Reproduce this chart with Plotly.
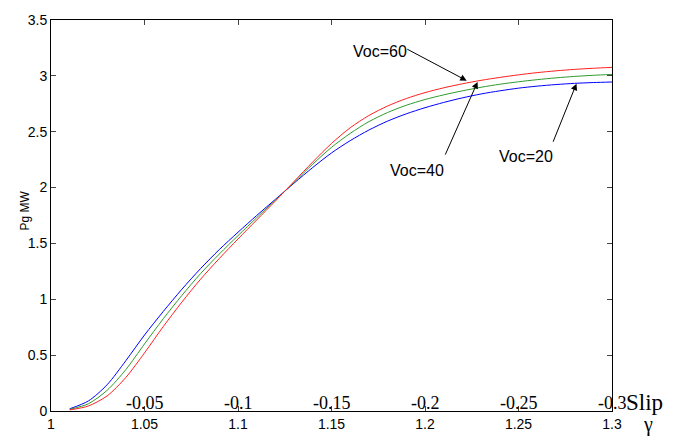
import plotly.graph_objects as go

# gamma (x) grid
gamma = [1.01, 1.02, 1.03, 1.04, 1.05, 1.06, 1.07, 1.08, 1.09, 1.10,
         1.11, 1.12, 1.13, 1.14, 1.15, 1.16, 1.17, 1.18, 1.19, 1.20,
         1.21, 1.22, 1.23, 1.24, 1.25, 1.26, 1.27, 1.28, 1.29, 1.30]
pg_voc20 = [0.02, 0.09, 0.235, 0.45, 0.68, 0.89, 1.09, 1.275, 1.445, 1.60,
            1.75, 1.895, 2.04, 2.18, 2.31, 2.42, 2.515, 2.595, 2.66, 2.715,
            2.762, 2.803, 2.838, 2.866, 2.89, 2.908, 2.922, 2.933, 2.94, 2.945]
pg_voc40 = [0.015, 0.065, 0.185, 0.37, 0.60, 0.825, 1.035, 1.23, 1.405, 1.57,
            1.73, 1.888, 2.047, 2.21, 2.36, 2.485, 2.59, 2.672, 2.737, 2.788,
            2.83, 2.866, 2.898, 2.925, 2.947, 2.966, 2.982, 2.995, 3.005, 3.013]
pg_voc60 = [0.01, 0.045, 0.135, 0.30, 0.52, 0.755, 0.975, 1.18, 1.365, 1.54,
            1.71, 1.88, 2.055, 2.23, 2.395, 2.535, 2.645, 2.73, 2.797, 2.85,
            2.893, 2.929, 2.96, 2.986, 3.009, 3.029, 3.045, 3.058, 3.068, 3.076]

x_ticks = [1, 1.05, 1.1, 1.15, 1.2, 1.25, 1.3]
x_tick_labels = ["1", "1.05", "1.1", "1.15", "1.2", "1.25", "1.3"]
y_ticks = [0, 0.5, 1, 1.5, 2, 2.5, 3, 3.5]
y_tick_labels = ["0", "0.5", "1", "1.5", "2", "2.5", "3", "3.5"]
slip_pos = [1.05, 1.1, 1.15, 1.2, 1.25, 1.3]
slip_labels = ["-0.05", "-0.1", "-0.15", "-0.2", "-0.25", "-0.3"]

fig = go.Figure()
for yv, col, nm in [(pg_voc20, "#0000ff", "Voc=20"), (pg_voc40, "#2e9a2e", "Voc=40"), (pg_voc60, "#ff2020", "Voc=60")]:
    fig.add_trace(go.Scatter(x=gamma, y=yv, mode="lines",
                             line=dict(color=col, width=1, shape="spline", smoothing=0.8), name=nm))

narrow = "Liberation Sans Narrow, Arial Narrow, Liberation Sans, Arial, sans-serif"
serif = "Liberation Serif, Times New Roman, serif"

L, R, T, B = 51, 67, 20, 24
PW, PH = 679 - L - R, 444 - T - B


def px_x(px):
    return (px - L) / PW


def px_y(py):
    return (444 - B - py) / PH


annots = []
labels = [
    ("Voc=60", 1.1758, 3.222, 1.2223, 2.957, 1.1897, 3.246),
    ("Voc=40", 1.1959, 2.151, 1.2281, 2.945, 1.2105, 2.282),
    ("Voc=20", 1.2542, 2.274, 1.2810, 2.930, 1.2682, 2.397),
]
for txt, tx, ty, hx, hy, ax_, ay_ in labels:
    annots.append(dict(x=tx, y=ty, xref="x", yref="y", text=txt, showarrow=False,
                       font=dict(family=narrow, size=16, color="black")))
    annots.append(dict(x=hx, y=hy, xref="x", yref="y", ax=ax_, ay=ay_, axref="x", ayref="y",
                       text="", showarrow=True, arrowhead=2, arrowsize=1.3, arrowwidth=1,
                       arrowcolor="black", standoff=0, startstandoff=0))
for p, s in zip(slip_pos, slip_labels):
    annots.append(dict(x=p, y=0.074, xref="x", yref="y", text=s, showarrow=False,
                       font=dict(family=serif, size=18, color="black"), yanchor="middle"))
annots.append(dict(x=1.0, y=0.074, xref="paper", yref="y", xshift=12, text="Slip", showarrow=False,
                   xanchor="left", yanchor="middle", font=dict(family=serif, size=23, color="black")))
annots.append(dict(x=px_x(648.5), y=px_y(434), xref="paper", yref="paper", text="γ", showarrow=False,
                   xanchor="center", yanchor="middle", font=dict(family=serif, size=20, color="black")))
annots.append(dict(x=px_x(25), y=px_y(215), xref="paper", yref="paper", text="Pg MW", textangle=-90, showarrow=False,
                   xanchor="center", yanchor="middle", font=dict(family="Liberation Sans, Arial, sans-serif", size=12, color="black")))

fig.update_layout(
    width=679, height=444,
    margin=dict(l=L, r=R, t=T, b=B),
    paper_bgcolor="white", plot_bgcolor="white",
    showlegend=False,
    annotations=annots,
    xaxis=dict(range=[1, 1.3], tickvals=x_ticks, ticktext=x_tick_labels, ticks="inside", ticklen=5,
               showline=True, linecolor="black", linewidth=1, mirror="ticks", showgrid=False, zeroline=False,
               tickfont=dict(family=narrow, size=14, color="black")),
    yaxis=dict(range=[0, 3.5], tickvals=y_ticks, ticktext=y_tick_labels, ticks="inside", ticklen=5,
               showline=True, linecolor="black", linewidth=1, mirror="ticks", showgrid=False, zeroline=False,
               tickfont=dict(family=narrow, size=14, color="black")),
)

fig.write_html("out.html")
